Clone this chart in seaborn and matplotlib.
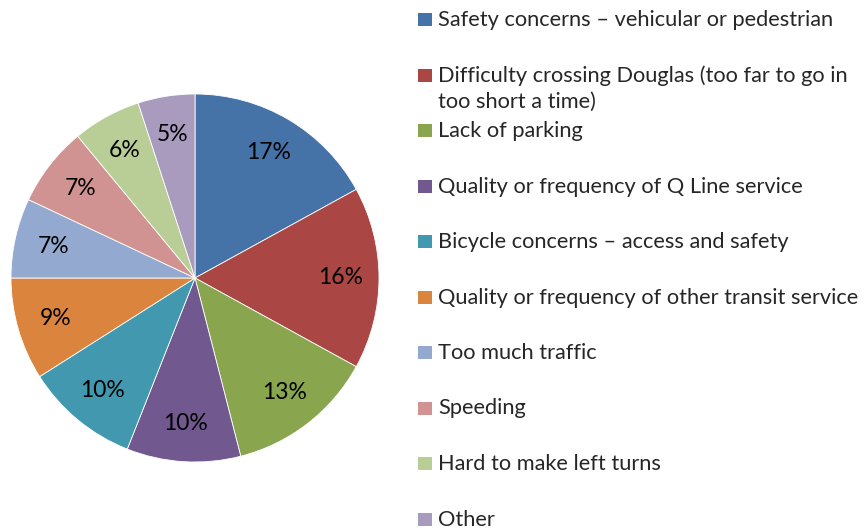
import matplotlib
matplotlib.use('Agg')
import matplotlib.pyplot as plt
from matplotlib.patches import Rectangle
import seaborn as sns

# data
categories = [
    'Safety concerns \u2013 vehicular or pedestrian',
    'Difficulty crossing Douglas (too far to go in\ntoo short a time)',
    'Lack of parking',
    'Quality or frequency of Q Line service',
    'Bicycle concerns \u2013 access and safety',
    'Quality or frequency of other transit service',
    'Too much traffic',
    'Speeding',
    'Hard to make left turns',
    'Other',
]
shares = [17, 16, 13, 10, 10, 9, 7, 7, 6, 5]
colors = ['#4572A7', '#AA4643', '#89A54E', '#71588F', '#4198AF',
          '#DB843D', '#93A9CF', '#D19392', '#B9CD96', '#A99BBD']

sns.set_style('white')
plt.rcParams['font.family'] = ['Lato', 'DejaVu Sans']

W, H = 867, 532
fig = plt.figure(figsize=(W / 100, H / 100), dpi=100)

#pie placed by pixel centre and radius
cx, cy, r = 195, 278, 184
ax = fig.add_axes([(cx - r) / W, (H - cy - r) / H, 2 * r / W, 2 * r / H])
palette = sns.color_palette(colors)
wedges, texts, autotexts = ax.pie(
    shares, colors=palette, startangle=90, counterclock=False,
    autopct='%.0f%%', pctdistance=0.79,
    wedgeprops=dict(edgecolor='white', linewidth=0.6),
    textprops=dict(fontsize=16.5, color='black'))
ax.set_xlim(-1, 1)
ax.set_ylim(-1, 1)
ax.set_aspect('auto')
ax.axis('off')

#manual legend on the right
for i, (lab, col) in enumerate(zip(categories, palette)):
    base = 26 + 55.5 * i
    fig.add_artist(Rectangle((418 / W, 1 - base / H), 14 / W, 13 / H,
                             transform=fig.transFigure, facecolor=col,
                             edgecolor='none'))
    #wrapped labels: one line per fig.text so the first baseline stays put
    for j, line in enumerate(lab.split('\n')):
        fig.text(438 / W, 1 - (base + 26 * j) / H, line, fontsize=15.7,
                 va='baseline', ha='left')

fig.savefig('out.png', dpi=100)
